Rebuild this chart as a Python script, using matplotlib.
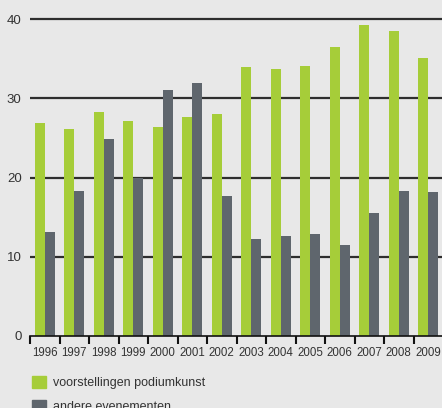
import numpy as np
import matplotlib
matplotlib.use('Agg')
import matplotlib.pyplot as plt
from matplotlib.patches import Patch

years = ['1996', '1997', '1998', '1999', '2000', '2001', '2002',
         '2003', '2004', '2005', '2006', '2007', '2008', '2009']
podiumkunst = [26.9, 26.1, 28.3, 27.1, 26.4, 27.6, 28.0,
               33.9, 33.7, 34.1, 36.5, 39.2, 38.5, 35.1]
evenementen = [13.1, 18.3, 24.9, 20.0, 31.0, 31.9, 17.7,
               12.2, 12.6, 12.9, 11.5, 15.5, 18.3, 18.2]
yticks = [0, 10, 20, 30, 40]
labels = ['voorstellingen podiumkunst', 'andere evenementen']

bg = '#e8e8e8'
green = '#a6cd39'
grey = '#5f666d'
plt.rcParams['font.family'] = ['Liberation Sans', 'DejaVu Sans']

W, H = 442, 408
fig = plt.figure(figsize=(W / 100, H / 100), dpi=100, facecolor=bg)
# axes: left at x=30px, 29.5px per category, y=0 at 336px, 7.925px per unit
ytop = 40.5
ax = fig.add_axes([30 / W, (H - 336) / H, 14 * 29.5 / W, ytop * 7.925 / H])
ax.set_facecolor(bg)

x = np.arange(len(years))
w = 0.345
ax.bar(x - w / 2, podiumkunst, w, color=green, zorder=3)
ax.bar(x + w / 2, evenementen, w, color=grey, zorder=3)

for v in yticks[1:]:
    ax.axhline(v, color='#2e2e2e', lw=1.6, zorder=1)

ax.set_xlim(-0.5, len(years) - 0.5)
ax.set_ylim(0, ytop)
for s in ['top', 'right', 'left']:
    ax.spines[s].set_visible(False)
ax.spines['bottom'].set_color('#111111')
ax.spines['bottom'].set_linewidth(1.2)
ax.spines['bottom'].set_zorder(4)

ax.set_yticks(yticks)
ax.tick_params(axis='y', length=0, pad=6, labelsize=9.5, labelcolor='#333333')
ax.set_xticks(x)
ax.set_xticklabels(years)
ax.tick_params(axis='x', which='major', length=0, pad=8, labelsize=8.3, labelcolor='#333333')
ax.set_xticks(np.arange(len(years)) - 0.5, minor=True)
ax.tick_params(axis='x', which='minor', length=6, width=1.5, color='#111111', direction='out')

handles = [Patch(color=green), Patch(color=grey)]
fig.legend(handles, labels, loc='upper left', bbox_to_anchor=(27 / W, (H - 371) / H),
           frameon=False, fontsize=9, labelcolor='#333333', handlelength=1.15,
           handleheight=1.15, handletextpad=0.5, labelspacing=0.85, borderaxespad=0)

fig.savefig('out.png', dpi=100, facecolor=bg)
